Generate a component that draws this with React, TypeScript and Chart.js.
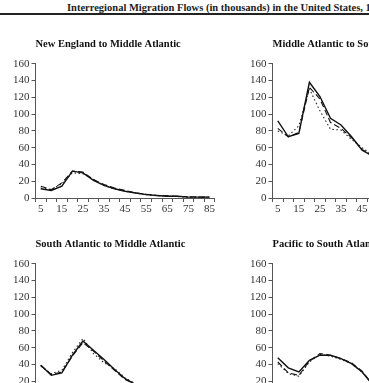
import React, { useEffect, useRef } from "react";
import { Chart, registerables } from "chart.js";

Chart.register(...registerables);

const AGES = ["5", "10", "15", "20", "25", "30", "35", "40", "45", "50", "55", "60", "65", "70", "75", "80", "85"];
const Y_TICKS = [0, 20, 40, 60, 80, 100, 120, 140, 160];

const NE_MA_SOLID = [11, 9, 14, 32, 30, 21, 15, 11, 8, 6, 4, 3, 2, 2, 1, 1, 1];
const NE_MA_DASHED = [14, 10, 18, 32, 31, 22, 16, 12, 9, 6, 4.5, 3, 2.5, 2, 1.5, 1, 1];
const NE_MA_DOTTED = [12, 10, 17, 30, 29, 22, 15, 11, 8, 6, 4, 3, 2.5, 1.5, 1, 1, 1];

const MA_SA_SOLID = [92, 73, 77, 138, 121, 95, 87, 73, 57, 50, 46, 43, 40, 34, 27, 19, 12];
const MA_SA_DASHED = [83, 73, 78, 132, 118, 90, 83, 72, 58, 50, 45, 42, 39, 33, 26, 19, 12];
const MA_SA_DOTTED = [80, 74, 86, 130, 104, 82, 81, 70, 60, 51, 46, 42, 39, 33, 26, 18, 11];

const SA_MA_SOLID = [39, 27, 30, 51, 68, 57, 46, 34, 23, 16, 11, 8, 6, 4, 3, 2, 1];
const SA_MA_DASHED = [39, 28, 31, 50, 66, 56, 44, 33, 22, 16, 11, 8, 6, 4, 3, 2, 1];
const SA_MA_DOTTED = [38, 29, 33, 54, 71, 53, 42, 35, 24, 17, 11, 8, 6, 4, 3, 2, 1];

const PA_SA_SOLID = [48, 36, 31, 45, 51, 51, 47, 41, 31, 16, 11, 8, 6, 4, 3, 2, 1];
const PA_SA_DASHED = [43, 30, 27, 44, 53, 51, 47, 42, 32, 16, 11, 8, 6, 4, 3, 2, 1];
const PA_SA_DOTTED = [41, 29, 26, 43, 52, 50, 46, 41, 31, 16, 11, 8, 6, 4, 3, 2, 1];

const HEADER = "Interregional Migration Flows (in thousands) in the United States, 1995–2000";

const FONT_FAMILY = "'Liberation Serif', 'Times New Roman', serif";
const AXIS_COLOR = "#555";
const LABEL_COLOR = "#333";

type PanelProps = {
  title: string;
  solid: number[];
  dashed: number[];
  dotted: number[];
  left: number;
  top: number;
};

const W = 216;
const H = 188;

function Panel({ title, solid, dashed, dotted, left, top }: PanelProps) {
  const ref = useRef<HTMLCanvasElement | null>(null);
  useEffect(() => {
    if (!ref.current) return;
    const tickFont = { family: FONT_FAMILY, size: 11 };
    const chart = new Chart(ref.current, {
      type: "line",
      data: {
        labels: AGES,
        datasets: [
          { data: solid, borderColor: "#111", borderWidth: 1.4, pointRadius: 0, tension: 0, fill: false },
          { data: dashed, borderColor: "#111", borderWidth: 1.1, borderDash: [6, 3], pointRadius: 0, tension: 0, fill: false },
          { data: dotted, borderColor: "#222", borderWidth: 1.1, borderDash: [1.5, 2.5], pointRadius: 0, tension: 0, fill: false },
        ],
      },
      options: {
        animation: false,
        responsive: false,
        devicePixelRatio: 1,
        layout: { padding: { top: 0, right: 1, bottom: 0, left: 0 } },
        plugins: {
          legend: { display: false },
          tooltip: { enabled: false },
          title: {
            display: true,
            text: title,
            align: "start",
            fullSize: false,
            color: "#111",
            font: { family: FONT_FAMILY, size: 10.5, weight: "bold" },
            padding: { top: 8.4, bottom: 12.8 },
          },
        },
        scales: {
          x: {
            type: "category",
            offset: true,
            grid: { offset: true, drawOnChartArea: false, drawTicks: true, tickLength: 4, color: AXIS_COLOR },
            border: { display: true, color: AXIS_COLOR, width: 1 },
            ticks: {
              autoSkip: false,
              maxRotation: 0,
              padding: 1,
              color: LABEL_COLOR,
              font: tickFont,
              callback: (_v: any, i: number) => (i % 2 === 0 ? AGES[i] : ""),
            },
            afterFit: (s: any) => {
              s.height = 20;
            },
          },
          y: {
            type: "linear",
            min: 0,
            max: 160,
            afterBuildTicks: (s: any) => {
              s.ticks = Y_TICKS.map((v) => ({ value: v }));
            },
            grid: { drawOnChartArea: false, drawTicks: true, tickLength: 4, color: AXIS_COLOR },
            border: { display: true, color: AXIS_COLOR, width: 1 },
            ticks: { padding: 2, color: LABEL_COLOR, font: tickFont },
            afterFit: (s: any) => {
              s.width = 35.5;
            },
          },
        },
      },
    } as any);
    return () => chart.destroy();
  }, [title, solid, dashed, dotted]);
  return (
    <canvas
      ref={ref}
      width={W}
      height={H}
      style={{ position: "absolute", left, top, width: W, height: H }}
    />
  );
}

export default function App() {
  return (
    <div
      style={{
        position: "fixed",
        left: 0,
        top: 0,
        width: 369,
        height: 383,
        overflow: "hidden",
        background: "#fff",
      }}
    >
      <div
        style={{
          position: "absolute",
          left: 67,
          top: 2,
          whiteSpace: "nowrap",
          fontFamily: FONT_FAMILY,
          fontWeight: "bold",
          fontSize: 10.5,
          lineHeight: "12px",
          color: "#222",
        }}
      >
        {HEADER}
      </div>
      <div style={{ position: "absolute", left: 0, top: 13, width: 369, height: 2, background: "#222" }} />
      <Panel title="New England to Middle Atlantic" solid={NE_MA_SOLID} dashed={NE_MA_DASHED} dotted={NE_MA_DOTTED} left={0} top={30} />
      <Panel title="Middle Atlantic to South Atlantic" solid={MA_SA_SOLID} dashed={MA_SA_DASHED} dotted={MA_SA_DOTTED} left={237} top={30} />
      <Panel title="South Atlantic to Middle Atlantic" solid={SA_MA_SOLID} dashed={SA_MA_DASHED} dotted={SA_MA_DOTTED} left={0} top={230} />
      <Panel title="Pacific to South Atlantic" solid={PA_SA_SOLID} dashed={PA_SA_DASHED} dotted={PA_SA_DOTTED} left={237} top={230} />
    </div>
  );
}
